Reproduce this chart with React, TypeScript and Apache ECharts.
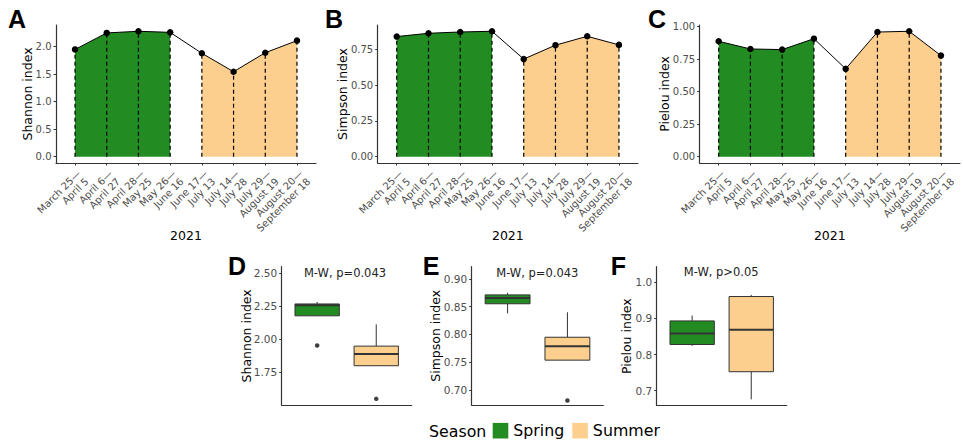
import React, { useEffect, useRef } from "react";
import * as echarts from "echarts";

// ---------- data ----------
const periods = [
  "March 25—\nApril 5",
  "April 6—\nApril 27",
  "April 28—\nMay 25",
  "May 26—\nJune 16",
  "June 17—\nJuly 13",
  "July 14—\nJuly 28",
  "July 29—\nAugust 19",
  "August 20—\nSeptember 18",
];
const periodSeason = ["Spring", "Spring", "Spring", "Spring", "Summer", "Summer", "Summer", "Summer"];
const seasonNames = ["Spring", "Summer"];
const shannon = [1.95, 2.25, 2.28, 2.26, 1.88, 1.545, 1.89, 2.11];
const simpson = [0.838, 0.861, 0.87, 0.875, 0.681, 0.778, 0.84, 0.78];
const pielou = [0.888, 0.829, 0.824, 0.908, 0.676, 0.959, 0.965, 0.778];
const shannonTicks = [0, 0.5, 1, 1.5, 2];
const simpsonTicks = [0, 0.25, 0.5, 0.75];
const pielouTicks = [0, 0.25, 0.5, 0.75, 1];
const shannonBoxTicks = [1.75, 2, 2.25, 2.5];
const simpsonBoxTicks = [0.7, 0.75, 0.8, 0.85, 0.9];
const pielouBoxTicks = [0.7, 0.8, 0.9, 1.0];
const testLabels = ["M-W, p=0.043", "M-W, p=0.043", "M-W, p>0.05"];
const yearLabel = "2021";

// ---------- styles / layout ----------
const COLORS: Record<string, string> = { Spring: "#228B22", Summer: "#FDCF8E" };
const FONT = "DejaVu Sans";
const TICK_COLOR = "#4d4d4d";
const AXIS_COLOR = "#333333";

const metrics = [
  { name: "Shannon index", values: shannon, ticks: shannonTicks, dec: 1, boxTicks: shannonBoxTicks, boxDec: 2 },
  { name: "Simpson index", values: simpson, ticks: simpsonTicks, dec: 2, boxTicks: simpsonBoxTicks, boxDec: 2 },
  { name: "Pielou index", values: pielou, ticks: pielouTicks, dec: 2, boxTicks: pielouBoxTicks, boxDec: 1 },
];

const lineGrids = [
  { left: 56, top: 25, width: 260, height: 138, nameGap: 22, yMin: -0.114, yMax: 2.394 },
  { left: 377.7, top: 25, width: 260.3, height: 138, nameGap: 29, yMin: -0.04375, yMax: 0.91875 },
  { left: 699.6, top: 25, width: 260.4, height: 138, nameGap: 29, yMin: -0.04825, yMax: 1.01325 },
];
const boxGrids = [
  { left: 281.7, top: 266.7, width: 130, height: 138.3, nameGap: 28.5, yMin: 1.4983, yMax: 2.5477, tx: 345, ty: 272.7 },
  { left: 471.7, top: 266.7, width: 131.6, height: 138.3, nameGap: 29.5, yMin: 0.673, yMax: 0.922, tx: 537.3, ty: 272.7 },
  { left: 656.7, top: 266.7, width: 130, height: 138.8, nameGap: 23.5, yMin: 0.659, yMax: 1.043, tx: 721.2, ty: 272.2 },
];
const letters = [
  { t: "A", x: 8, y: 19 },
  { t: "B", x: 325, y: 18.5 },
  { t: "C", x: 648, y: 19 },
  { t: "D", x: 228, y: 266 },
  { t: "E", x: 422.7, y: 266 },
  { t: "F", x: 610.7, y: 265.5 },
];

function quantile(sorted: number[], p: number) {
  const h = (sorted.length - 1) * p;
  const lo = Math.floor(h);
  const hi = Math.min(lo + 1, sorted.length - 1);
  return sorted[lo] + (h - lo) * (sorted[hi] - sorted[lo]);
}
function boxStats(vals: number[]) {
  const s = [...vals].sort((a, b) => a - b);
  const q1 = quantile(s, 0.25);
  const med = quantile(s, 0.5);
  const q3 = quantile(s, 0.75);
  const iqr = q3 - q1;
  const inside = s.filter((v) => v >= q1 - 1.5 * iqr && v <= q3 + 1.5 * iqr);
  const outliers = s.filter((v) => v < q1 - 1.5 * iqr || v > q3 + 1.5 * iqr);
  return { box: [inside[0], q1, med, q3, inside[inside.length - 1]], outliers };
}

function buildOption() {
  const grid: any[] = [];
  const xAxis: any[] = [];
  const yAxis: any[] = [];
  const series: any[] = [];
  const graphic: any[] = [];

  metrics.forEach((m, k) => {
    const g = lineGrids[k];
    grid.push({ left: g.left, top: g.top, width: g.width, height: g.height, containLabel: false });
    const idx = periods.map((_, i) => i);
    xAxis.push({
      type: "value",
      gridIndex: k,
      min: -0.6,
      max: periods.length - 1 + 0.6,
      name: yearLabel,
      nameLocation: "middle",
      nameGap: 66,
      nameMoveOverlap: false,
      nameTextStyle: { fontFamily: FONT, fontSize: 12.5, color: "#000" },
      axisLine: { show: true, onZero: false, lineStyle: { color: AXIS_COLOR, width: 1.2 } },
      axisTick: { show: true, length: 2.5, customValues: idx, lineStyle: { color: AXIS_COLOR } },
      axisLabel: {
        customValues: idx,
        formatter: (v: number) => periods[Math.round(v)],
        rotate: 45,
        verticalAlign: "top",
        margin: 5,
        fontFamily: FONT,
        fontSize: 10,
        lineHeight: 11,
        color: TICK_COLOR,
      },
      splitLine: { show: false },
    });
    yAxis.push({
      type: "value",
      gridIndex: k,
      min: g.yMin,
      max: g.yMax,
      name: m.name,
      nameLocation: "middle",
      nameGap: g.nameGap,
      nameMoveOverlap: false,
      nameTextStyle: { fontFamily: FONT, fontSize: 12.5, color: "#000" },
      axisLine: { show: true, onZero: false, lineStyle: { color: AXIS_COLOR, width: 1.2 } },
      axisTick: { show: true, length: 2.5, customValues: m.ticks, lineStyle: { color: AXIS_COLOR } },
      axisLabel: {
        customValues: m.ticks,
        formatter: (v: number) => v.toFixed(m.dec),
        margin: 4.5,
        fontFamily: FONT,
        fontSize: 10,
        color: TICK_COLOR,
      },
      splitLine: { show: false },
    });

    seasonNames.forEach((s) => {
      series.push({
        type: "line",
        name: s,
        xAxisIndex: k,
        yAxisIndex: k,
        z: 1,
        data: m.values.map((v, i) => [i, v]).filter((_, i) => periodSeason[i] === s),
        symbol: "none",
        lineStyle: { width: 0, color: COLORS[s] },
        itemStyle: { color: COLORS[s] },
        areaStyle: { color: COLORS[s], opacity: 1 },
        silent: true,
      });
    });
    series.push({
      type: "custom",
      xAxisIndex: k,
      yAxisIndex: k,
      z: 2,
      data: m.values.map((v, i) => [i, v]),
      encode: { x: 0, y: 1 },
      renderItem: (params: any, api: any) => {
        const x = api.value(0);
        const p0 = api.coord([x, 0]);
        const p1 = api.coord([x, api.value(1)]);
        return {
          type: "line",
          shape: { x1: p0[0], y1: p0[1], x2: p1[0], y2: p1[1] },
          style: { stroke: "#000", lineWidth: 1.2, lineDash: [4, 3] },
        };
      },
      silent: true,
    });
    series.push({
      type: "line",
      xAxisIndex: k,
      yAxisIndex: k,
      z: 3,
      data: m.values.map((v, i) => [i, v]),
      symbol: "circle",
      symbolSize: 6.5,
      itemStyle: { color: "#000" },
      lineStyle: { color: "#000", width: 1 },
      silent: true,
    });
  });

  metrics.forEach((m, k) => {
    const gi = 3 + k;
    const g = boxGrids[k];
    grid.push({ left: g.left, top: g.top, width: g.width, height: g.height, containLabel: false });
    xAxis.push({
      type: "value",
      gridIndex: gi,
      min: -0.6,
      max: seasonNames.length - 1 + 0.6,
      axisLine: { show: true, onZero: false, lineStyle: { color: AXIS_COLOR, width: 1.2 } },
      axisTick: { show: false },
      axisLabel: { show: false },
      splitLine: { show: false },
    });
    yAxis.push({
      type: "value",
      gridIndex: gi,
      min: g.yMin,
      max: g.yMax,
      name: m.name,
      nameLocation: "middle",
      nameGap: g.nameGap,
      nameMoveOverlap: false,
      nameTextStyle: { fontFamily: FONT, fontSize: 12.5, color: "#000" },
      axisLine: { show: true, onZero: false, lineStyle: { color: AXIS_COLOR, width: 1.2 } },
      axisTick: { show: true, length: 2.5, customValues: m.boxTicks, lineStyle: { color: AXIS_COLOR } },
      axisLabel: {
        customValues: m.boxTicks,
        formatter: (v: number) => v.toFixed(m.boxDec),
        margin: 4.5,
        fontFamily: FONT,
        fontSize: 10.5,
        color: TICK_COLOR,
      },
      splitLine: { show: false },
    });

    const outliers: number[][] = [];
    seasonNames.forEach((s, si) => {
      const vals = m.values.filter((_, i) => periodSeason[i] === s);
      const st = boxStats(vals);
      st.outliers.forEach((o) => outliers.push([si, o]));
      series.push({
        type: "custom",
        name: s,
        xAxisIndex: gi,
        yAxisIndex: gi,
        z: 2,
        itemStyle: { color: COLORS[s] },
        data: [[si, ...st.box]],
        encode: { x: 0, y: [1, 2, 3, 4, 5] },
        renderItem: (params: any, api: any) => {
          const x = api.value(0);
          const lo = api.coord([x, api.value(1)]);
          const q1 = api.coord([x, api.value(2)]);
          const md = api.coord([x, api.value(3)]);
          const q3 = api.coord([x, api.value(4)]);
          const hi = api.coord([x, api.value(5)]);
          const w = api.size([0.75, 0])[0];
          const stroke = "#333333";
          return {
            type: "group",
            children: [
              { type: "line", shape: { x1: lo[0], y1: lo[1], x2: q1[0], y2: q1[1] }, style: { stroke, lineWidth: 1 } },
              { type: "line", shape: { x1: q3[0], y1: q3[1], x2: hi[0], y2: hi[1] }, style: { stroke, lineWidth: 1 } },
              {
                type: "rect",
                shape: { x: q1[0] - w / 2, y: q3[1], width: w, height: q1[1] - q3[1] },
                style: { fill: COLORS[s], stroke, lineWidth: 1 },
              },
              {
                type: "line",
                shape: { x1: md[0] - w / 2, y1: md[1], x2: md[0] + w / 2, y2: md[1] },
                style: { stroke, lineWidth: 2 },
              },
            ],
          };
        },
        silent: true,
      });
    });
    series.push({
      type: "scatter",
      xAxisIndex: gi,
      yAxisIndex: gi,
      z: 3,
      data: outliers,
      symbol: "circle",
      symbolSize: 4.5,
      itemStyle: { color: "#111" },
      silent: true,
    });

    graphic.push({
      type: "text",
      x: g.tx,
      y: g.ty,
      style: {
        text: testLabels[k],
        fontFamily: FONT,
        fontSize: 11.5,
        fill: "#222",
        align: "center",
        verticalAlign: "middle",
      },
    });
  });

  letters.forEach((l) => {
    graphic.push({
      type: "text",
      x: l.x,
      y: l.y,
      style: {
        text: l.t,
        fontFamily: "Liberation Sans",
        fontWeight: "bold",
        fontSize: 25,
        fill: "#000",
        align: "left",
        verticalAlign: "middle",
      },
    });
  });

  graphic.push({
    type: "text",
    x: 429,
    y: 431,
    style: {
      text: "Season",
      fontFamily: FONT,
      fontSize: 15.8,
      fill: "#000",
      align: "left",
      verticalAlign: "middle",
    },
  });

  return {
    animation: false,
    backgroundColor: "#fff",
    textStyle: { fontFamily: FONT },
    grid,
    xAxis,
    yAxis,
    series,
    graphic,
    legend: {
      left: 492.7,
      top: 422.7,
      padding: 0,
      itemWidth: 15.6,
      itemHeight: 15.6,
      itemGap: 8,
      icon: "rect",
      selectedMode: false,
      data: seasonNames.map((n) => ({ name: n, itemStyle: { color: COLORS[n], borderWidth: 0 } })),
      textStyle: { fontFamily: FONT, fontSize: 15.8, color: "#000" },
    },
  };
}

export default function App() {
  const ref = useRef<HTMLDivElement>(null);
  useEffect(() => {
    if (!ref.current) return;
    const chart = echarts.init(ref.current, undefined, { renderer: "svg" });
    chart.setOption(buildOption() as any);
    return () => chart.dispose();
  }, []);
  return (
    <div
      ref={ref}
      style={{ position: "fixed", left: 0, top: 0, width: 963, height: 442, background: "#fff" }}
    />
  );
}
